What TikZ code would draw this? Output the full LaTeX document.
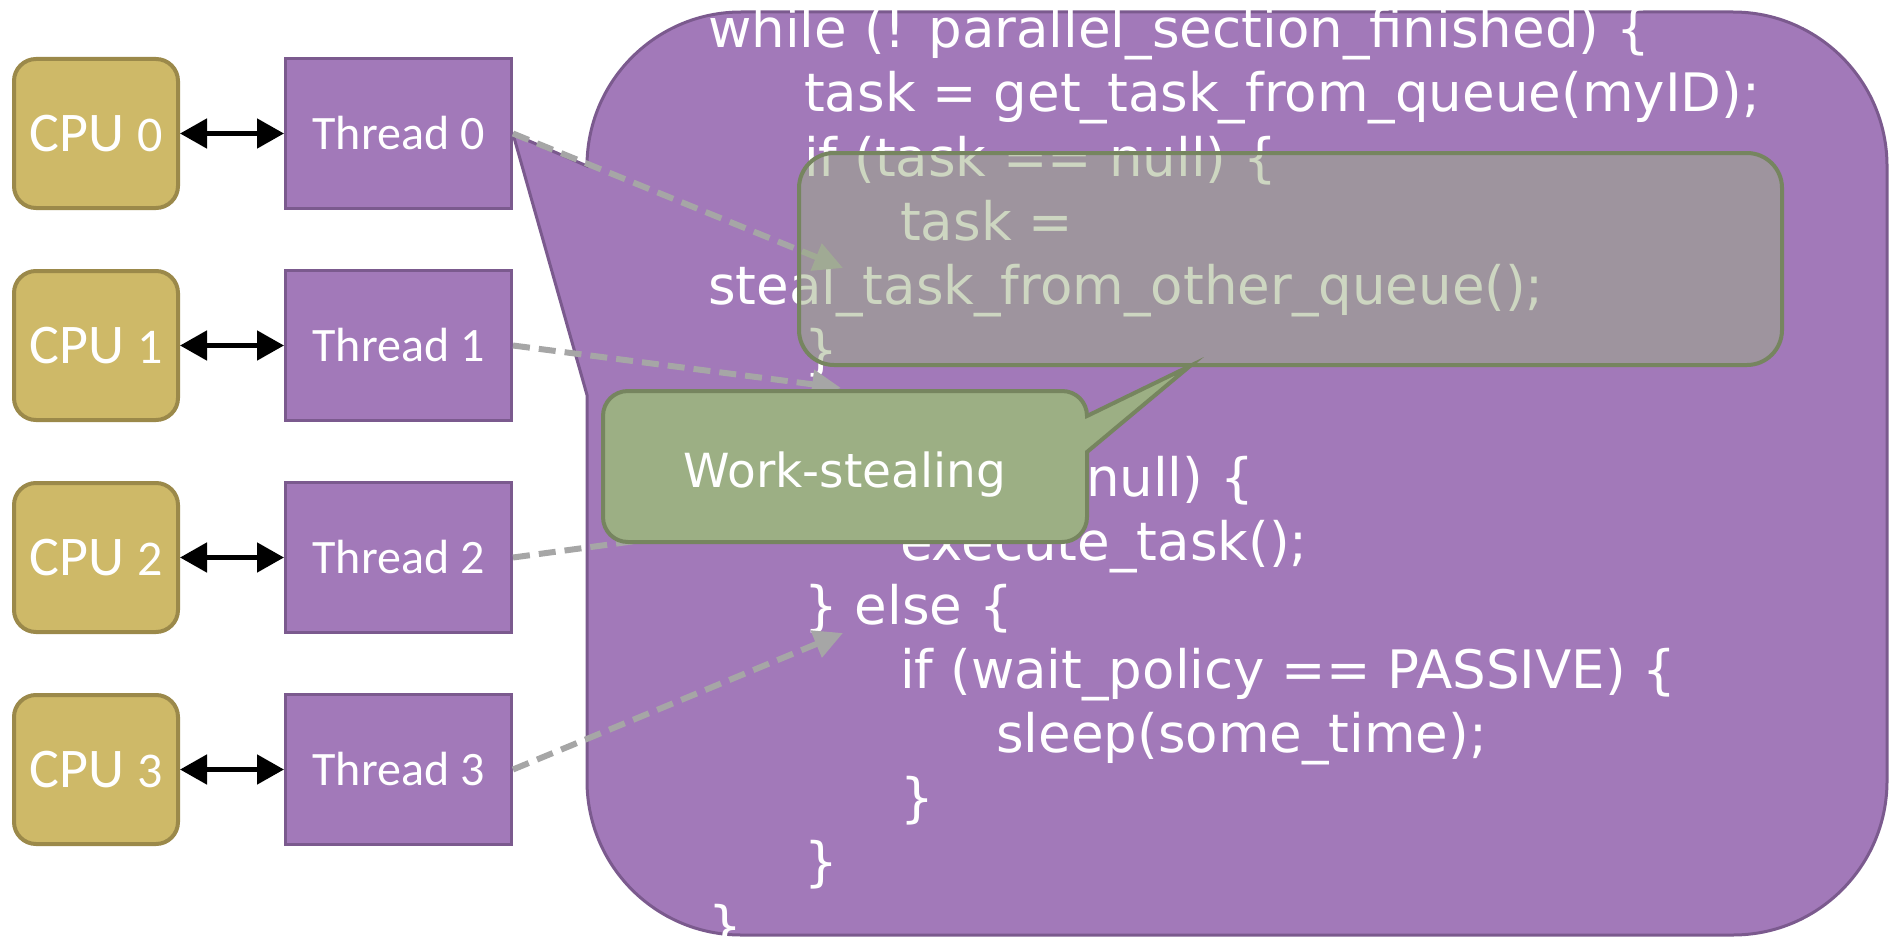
\documentclass[tikz,border=0pt]{standalone}
\usepackage{fontspec}
\newfontfamily\codefont{DejaVu Sans}
\newfontfamily\calfont{Carlito}
\usetikzlibrary{arrows.meta}
\definecolor{cpufill}{RGB}{206,185,104}
\definecolor{cpuline}{RGB}{155,137,74}
\definecolor{purp}{RGB}{162,121,185}
\definecolor{purpline}{RGB}{123,90,142}
\definecolor{grn}{RGB}{156,175,132}
\definecolor{grnline}{RGB}{118,133,95}
\definecolor{dashgray}{RGB}{166,166,166}
\begin{document}
\begin{tikzpicture}[x=1pt,y=-1pt,
  cpubox/.style={draw=cpuline, fill=cpufill, line width=4pt, rounded corners=22pt,
    minimum width=164pt, minimum height=149pt, inner sep=0pt, text=white},
  thrbox/.style={draw=purpline, fill=purp, line width=3pt,
    minimum width=226pt, minimum height=150pt, inner sep=0pt, text=white,
    font=\calfont\fontsize{48}{48}\selectfont},
  biglink/.style={draw=black, line width=5pt,
    {Triangle[length=27pt,width=29pt]}-{Triangle[length=27pt,width=29pt]}},
  dasharrow/.style={draw=dashgray, line width=6pt, dash pattern=on 17pt off 9pt,
    -{Triangle[length=29pt,width=28pt]}},
  codeline/.style={anchor=base west, inner sep=0pt, text=white,
    font=\codefont\fontsize{53}{64}\selectfont},
  ovlbox/.style={draw=grnline, line width=4pt, fill=grn, fill opacity=0.5,
    rounded corners=35pt, minimum width=983pt, minimum height=212pt, inner sep=0pt},
  calloutpurple/.style={draw=purpline, fill=purp, line width=3pt},
  calloutgreen/.style={draw=grnline, fill=grn, line width=4pt},
  wslabel/.style={anchor=base, inner sep=0pt, text=white,
    font=\codefont\fontsize{47}{47}\selectfont}
]
\useasboundingbox (0,0) rectangle (1889,939);

% big purple callout with tail towards Thread 0
\coordinate (tip0) at (513,134);
\path[calloutpurple] (587,395) -- (tip0) -- (587,166)
  .. controls (587,81) and (656,12) .. (741,12)
  -- (1733,12)
  .. controls (1818,12) and (1887,81) .. (1887,166)
  -- (1887,781)
  .. controls (1887,866) and (1818,935) .. (1733,935)
  -- (741,935)
  .. controls (656,935) and (587,866) .. (587,781)
  -- cycle;

% CPUs and threads
\foreach \i/\y in {0/133.5,1/345.5,2/557.5,3/769.5}{
  \node[cpubox] (cpu\i) at (96,\y)
    {{\calfont\fontsize{56}{56}\selectfont CPU\ }{\calfont\fontsize{50}{50}\selectfont\i}};
  \node[thrbox] (thr\i) at (398.5,\y) {Thread \i};
  \draw[biglink] (cpu\i) -- (thr\i);
}

% code text
\node[codeline] (l1)  at (708,48)  {while (! parallel\_section\_finished) \{};
\node[codeline] (l2)  at (804,112) {task = get\_task\_from\_queue(myID);};
\node[codeline] (l3)  at (804,176) {if (task == null) \{};
\node[codeline] (l4)  at (900,240) {task =};
\node[codeline] (l5)  at (708,304) {steal\_task\_from\_other\_queue();};
\node[codeline] (l6)  at (804,368) {\}};
\node[codeline] (l8)  at (804,496) {if (task != null) \{};
\node[codeline] (l9)  at (900,560) {execute\_task();};
\node[codeline] (l10) at (804,624) {\} else \{};
\node[codeline] (l11) at (900,688) {if (wait\_policy == PASSIVE) \{};
\node[codeline] (l12) at (996,752) {sleep(some\_time);};
\node[codeline] (l13) at (900,816) {\}};
\node[codeline] (l14) at (804,880) {\}};
\node[codeline] (l15) at (708,944) {\}};

% dashed arrows from threads
\coordinate (a0) at (843,268);
\coordinate (a1) at (841,388);
\coordinate (a2) at (843,513);
\coordinate (a3) at (843,633);
\draw[dasharrow] (thr0.east) -- (a0);
\draw[dasharrow] (thr1.east) -- (a1);
\draw[dasharrow] (thr2.east) -- (a2);
\draw[dasharrow] (thr3.east) -- (a3);

% translucent overlay box
\node[ovlbox] (ovl) at (1290.5,259) {};

% green Work-stealing callout
\coordinate (tipg) at (1190,366);
\path[calloutgreen] (1087,452) -- (tipg) -- (1087,416)
  .. controls (1087,402) and (1076,391) .. (1062,391)
  -- (628,391)
  .. controls (614,391) and (603,402) .. (603,416)
  -- (603,517)
  .. controls (603,531) and (614,542) .. (628,542)
  -- (1062,542)
  .. controls (1076,542) and (1087,531) .. (1087,517)
  -- cycle;
\node[wslabel] (ws) at (845,487) {Work-stealing};
\end{tikzpicture}
\end{document}
